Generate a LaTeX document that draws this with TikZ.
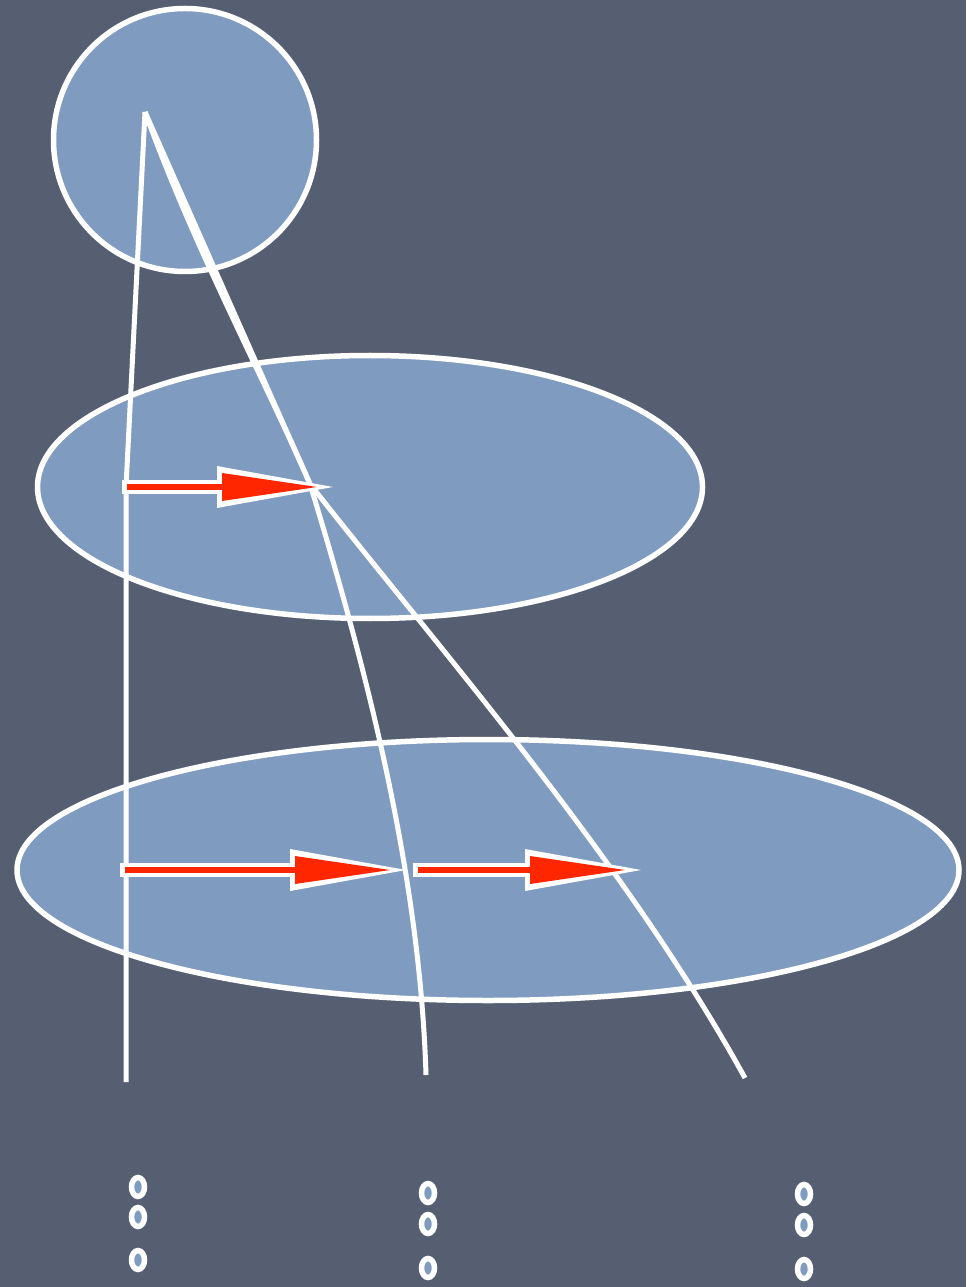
\documentclass[tikz,border=0pt]{standalone}
\usepackage{xcolor}
\usepackage{tikz}
\usetikzlibrary{arrows.meta,shapes.geometric}
\definecolor{slatebg}{RGB}{86,94,113}
\definecolor{layerblue}{RGB}{128,155,192}
\definecolor{flowred}{RGB}{255,38,0}

\begin{document}
\begin{tikzpicture}[
  x=0.1mm, y=-0.1mm,
  layer/.style={draw=white, line width=0.55mm, fill=layerblue, inner sep=0pt},
  wire/.style={draw=white, line width=0.5mm, line join=round},
  flowout/.style={white, line width=1.4mm,
                  -{Triangle[length=11.6mm, width=4.2mm, line width=0pt]}},
  flowin/.style={flowred, line width=0.6mm, shorten <=0.5mm, shorten >=1.6mm,
                 -{Triangle[length=9.5mm, width=2.8mm, line width=0pt]}},
  dotring/.style={ellipse, draw=white, line width=0.55mm, fill=layerblue,
                  minimum width=1.3mm, minimum height=1.9mm, inner sep=0pt}
]
%--- Background ---------------------------------------------------------------
\fill[slatebg] (0,0) rectangle (966,1287);
%--- Layers: circle on top, two ellipses below --------------------------------
\node[layer, circle, minimum size=26.3mm] (top) at (185,140) {};
\node[layer, ellipse, minimum width=66.5mm, minimum height=26.3mm] (mid) at (370,487) {};
\node[layer, ellipse, minimum width=94.2mm, minimum height=26.1mm] (low) at (488,870) {};
%--- Points the wires run through ---------------------------------------------
\coordinate (apex)   at (145,112);
\coordinate (bendL)  at (126,487);
\coordinate (crossL) at (126,870);
\coordinate (footL)  at (126,1082);
\coordinate (knot)   at (310,484);
\coordinate (footM)  at (426,1075);
\coordinate (footR)  at (745,1078);
%--- Wires ---------------------------------------------------------------------
\draw[wire] (apex) -- (bendL) -- (crossL) -- (footL);
\draw[wire] (apex) .. controls (195,250) and (265,380) .. (knot);
\draw[wire] (knot) .. controls (370,680) and (420,880) .. (footM);
\draw[wire] (apex) -- (knot);
\draw[wire] (knot) .. controls (440,650) and (625,860) .. (footR);
%--- Flow arrows -------------------------------------------------------------
\coordinate (f1s) at (122,487);
\coordinate (f1e) at (333,487);
\coordinate (f2s) at (120,870);
\coordinate (f2e) at (406,870);
\coordinate (f3s) at (413,870);
\coordinate (f3e) at (641,870);
\draw[flowout] (f1s) -- (f1e);
\draw[flowin]  (f1s) -- (f1e);
\draw[flowout] (f2s) -- (f2e);
\draw[flowin]  (f2s) -- (f2e);
\draw[flowout] (f3s) -- (f3e);
\draw[flowin]  (f3s) -- (f3e);
%--- Continuation dots ---------------------------------------------------------
\node[dotring] (dotL1) at (138,1187) {};
\node[dotring] (dotL2) at (138,1217) {};
\node[dotring] (dotL3) at (138,1260) {};
\node[dotring] (dotM1) at (428,1193) {};
\node[dotring] (dotM2) at (428,1224) {};
\node[dotring] (dotM3) at (428,1268) {};
\node[dotring] (dotR1) at (804,1194) {};
\node[dotring] (dotR2) at (804,1225) {};
\node[dotring] (dotR3) at (804,1269) {};
\end{tikzpicture}
\end{document}
